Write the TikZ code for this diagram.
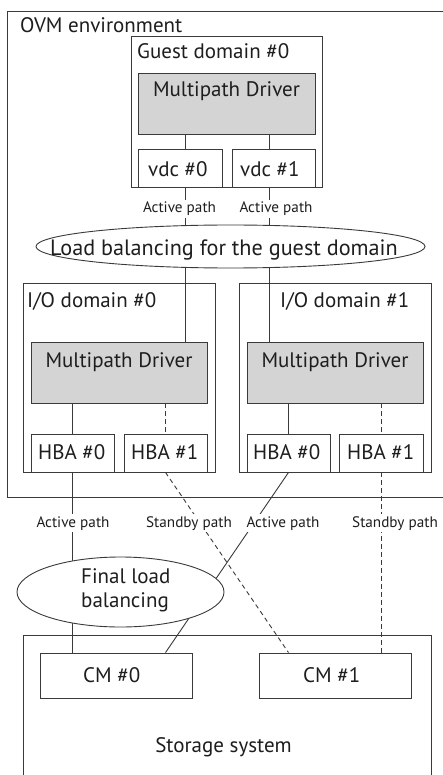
\documentclass[tikz,border=0pt]{standalone}
\usepackage{fontspec}
\setmainfont{PT Sans}
\usetikzlibrary{fit,shapes.geometric}
\definecolor{linec}{HTML}{3A3A3A}
\definecolor{txtc}{HTML}{1E1E1E}
\definecolor{drvfill}{HTML}{D4D4D4}
\begin{document}
\begin{tikzpicture}[x=1pt,y=-1pt,
  box/.style={draw=linec, line width=0.9pt, inner sep=0pt},
  drv/.style={box, fill=drvfill},
  big/.style={font=\fontsize{21}{24}\selectfont, text=txtc, inner sep=0pt},
  small/.style={font=\fontsize{15.2}{18}\selectfont, text=txtc, fill=white, inner sep=2pt},
  conn/.style={draw=linec, line width=0.9pt},
  stby/.style={conn, dash pattern=on 4.5pt off 3.5pt},
  oval/.style={ellipse, draw=linec, line width=0.9pt, fill=white, inner sep=0pt}]
\useasboundingbox (0,0) rectangle (443,775);
\clip (0,0) rectangle (443,775);
\fill[white] (0,0) rectangle (443,775);

% containers
\node[box, fit={(7,11) (460,497)}] (ovm) {};
\node[box, fill=white, fit={(131,36) (322,187)}] (gd) {};
\node[drv, fit={(138,73) (315,134)}] (gmd) {};
\node[box, fill=white, fit={(138,149) (222,187)}] (vdc0) {};
\node[box, fill=white, fit={(232,149) (315,187)}] (vdc1) {};

\node[box, fill=white, fit={(23,283) (215,472)}] (io0) {};
\node[box, fill=white, fit={(239,283) (431,472)}] (io1) {};
\node[drv, fit={(31,342) (207,403)}] (iomd0) {};
\node[drv, fit={(247,342) (423,403)}] (iomd1) {};
\node[box, fill=white, fit={(31,434) (114,472)}] (hba00) {};
\node[box, fill=white, fit={(124,434) (207,472)}] (hba01) {};
\node[box, fill=white, fit={(247,434) (330,472)}] (hba10) {};
\node[box, fill=white, fit={(339,434) (423,472)}] (hba11) {};

\node[box, fill=white, fit={(23,635) (431,800)}] (stor) {};
\node[box, fill=white, fit={(40,653) (192,698)}] (cm0) {};
\node[box, fill=white, fit={(259,653) (411,698)}] (cm1) {};

% texts in boxes
\node[big, anchor=base west] (ovmt) at (20,32.5) {OVM environment};
\node[big, anchor=base west] (gdt) at (137,59) {Guest domain \#0};
\node[big, anchor=base] (gmdt) at (226.5,97) {Multipath Driver};
\node[big, anchor=base west] (vdc0t) at (148,177) {vdc \#0};
\node[big, anchor=base west] (vdc1t) at (240,177) {vdc \#1};
\node[big, anchor=base west] (io0t) at (27,307) {I/O domain \#0};
\node[big, anchor=base west] (io1t) at (280,307) {I/O domain \#1};
\node[big, anchor=base] (iomd0t) at (119,367) {Multipath Driver};
\node[big, anchor=base] (iomd1t) at (335,367) {Multipath Driver};
\node[big, anchor=base west] (hba00t) at (38,459) {HBA \#0};
\node[big, anchor=base west] (hba01t) at (131,459) {HBA \#1};
\node[big, anchor=base west] (hba10t) at (253,459) {HBA \#0};
\node[big, anchor=base west] (hba11t) at (347,459) {HBA \#1};
\node[big, anchor=base west] (cm0t) at (83,682) {CM \#0};
\node[big, anchor=base west] (cm1t) at (303,682) {CM \#1};
\node[big, anchor=base] (stort) at (223.5,752) {Storage system};

% connectors
\coordinate (gx0) at (185,0);
\coordinate (gx1) at (269,0);
\draw[conn] (gmd.south -| gx0) -- (vdc0.north -| gx0);
\draw[conn] (gmd.south -| gx1) -- (vdc1.north -| gx1);
\draw[conn] (vdc0.south -| gx0) -- (iomd0.north -| gx0);
\draw[conn] (vdc1.south -| gx1) -- (iomd1.north -| gx1);

\draw[conn] (iomd0.south -| hba00.north) -- (hba00.north);
\draw[stby] (iomd0.south -| hba01.north) -- (hba01.north);
\draw[conn] (iomd1.south -| hba10.north) -- (hba10.north);
\draw[stby] (iomd1.south -| hba11.north) -- (hba11.north);

\draw[conn] (hba00.south) -- (cm0.north -| hba00.south);
\draw[conn] (hba10.south) -- (cm0.north -| hba01.south);
\draw[stby] (hba01.south) -- (cm1.north -| hba10.south);
\draw[stby] (hba11.south) -- (cm1.north -| hba11.south);

% load balancing ovals
\node[oval, minimum width=389pt, minimum height=43pt] (lb1) at (230.5,246.5) {};
\node[big, font=\fontsize{22.2}{24}\selectfont, anchor=base] (lb1t) at (224,255) {Load balancing for the guest domain};
\node[oval, minimum width=207pt, minimum height=70pt] (lb2) at (120.5,592) {};
\node[big, anchor=west, align=left] (lb2t) at (81,590) {Final load\\balancing};

% path labels
\node[small, anchor=base] (ap0) at (179.5,213) {Active path};
\node[small, anchor=base] (ap1) at (276,213) {Active path};
\node[small, anchor=base] (ap2) at (73,527) {Active path};
\node[small, anchor=base] (sp0) at (189,527) {Standby path};
\node[small, anchor=base] (ap3) at (283,527) {Active path};
\node[small, anchor=base] (sp1) at (395,527) {Standby path};
\end{tikzpicture}
\end{document}
